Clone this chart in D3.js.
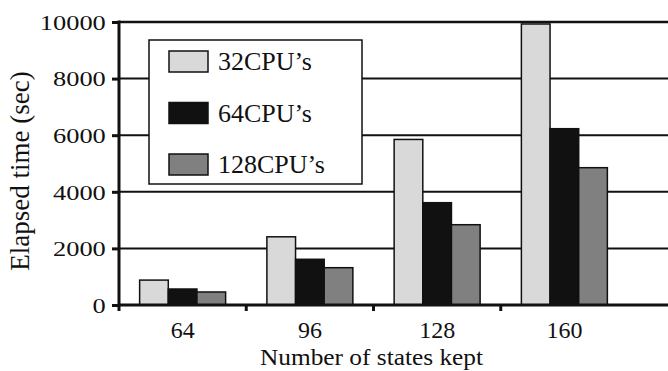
<!DOCTYPE html>
<html><head><meta charset="utf-8">
<script src="https://cdn.jsdelivr.net/npm/d3@7"></script>
<style>body{margin:0;background:#fff}svg{display:block}text{font-family:"Liberation Serif","Times New Roman",serif;fill:#111}</style>
</head><body><div id="chart"></div>
<script>
const categories = ["64", "96", "128", "160"];
const seriesNames = ["32CPU\u2019s", "64CPU\u2019s", "128CPU\u2019s"];
const cpu32 = [880, 2410, 5850, 9930];
const cpu64 = [565, 1615, 3615, 6230];
const cpu128 = [460, 1318, 2837, 4852];
const yTicks = [0, 2000, 4000, 6000, 8000, 10000];
const colors = ["#d9d9d9", "#111111", "#808080"];

const W = 668, H = 371;
const svg = d3.select("#chart").append("svg").attr("width", W).attr("height", H);
const pL = 119, pR = 628, pT = 22, pB = 305;

const x0 = d3.scaleBand().domain(categories).range([pL, pR]).padding(0);
const x1 = d3.scaleBand().domain(seriesNames).range([0, x0.bandwidth()]).paddingInner(0).paddingOuter(0.72);
const y = d3.scaleLinear().domain([0, 10000]).range([pB, pT]);

const series = [cpu32, cpu64, cpu128];

// gridlines
svg.append("g").selectAll("line").data(yTicks.filter(d => d > 0)).join("line")
  .attr("x1", pL).attr("x2", W).attr("y1", d => y(d)).attr("y2", d => y(d))
  .attr("stroke", "#111").attr("stroke-width", d => d === 10000 ? 2.5 : 2);

// bars
const groups = svg.append("g").selectAll("g").data(categories).join("g")
  .attr("transform", d => `translate(${x0(d)},0)`);
groups.selectAll("rect").data((c, i) => series.map((s, k) => ({name: seriesNames[k], v: s[i], k})))
  .join("rect")
  .attr("x", d => x1(d.name)).attr("width", x1.bandwidth())
  .attr("y", d => y(d.v)).attr("height", d => y(0) - y(d.v))
  .attr("fill", d => colors[d.k]).attr("stroke", "#111").attr("stroke-width", 1.5);

// y axis
const yAxis = d3.axisLeft(y).tickValues(yTicks).tickSize(7).tickSizeOuter(0).tickFormat(d3.format("d"));
const ya = svg.append("g").attr("transform", `translate(${pL},0)`).call(yAxis);
ya.select(".domain").remove();
ya.selectAll(".tick line").attr("stroke", "#111").attr("stroke-width", 3);
ya.selectAll(".tick text").attr("font-size", 22).attr("x", -11).attr("dy", "0.33em")
  .style("font-family", '"Liberation Serif",serif').attr("fill", "#111")
  .attr("transform", "scale(1.2,1)");
svg.append("line").attr("x1", pL).attr("x2", pL).attr("y1", pT - 1.5).attr("y2", pB + 6)
  .attr("stroke", "#111").attr("stroke-width", 3);

// x axis
svg.append("line").attr("x1", pL).attr("x2", W).attr("y1", pB).attr("y2", pB)
  .attr("stroke", "#111").attr("stroke-width", 3);
svg.append("g").selectAll("line").data(categories.slice(1)).join("line")
  .attr("x1", d => x0(d)).attr("x2", d => x0(d)).attr("y1", pB).attr("y2", pB + 6)
  .attr("stroke", "#111").attr("stroke-width", 3);
svg.append("g").selectAll("text").data(categories).join("text")
  .attr("x", d => x0(d) + x0.bandwidth() / 2).attr("y", 338)
  .attr("text-anchor", "middle").attr("font-size", 24).text(d => d);

// axis titles
svg.append("text").attr("x", (pL + pR) / 2 - 2).attr("y", 365).attr("text-anchor", "middle")
  .attr("font-size", 24).attr("textLength", 223).attr("lengthAdjust", "spacingAndGlyphs")
  .text("Number of states kept");
svg.append("text").attr("transform", "translate(29,171) rotate(-90)").attr("text-anchor", "middle")
  .attr("font-size", 27).text("Elapsed time (sec)");

// legend
const lg = svg.append("g");
lg.append("rect").attr("x", 149).attr("y", 40).attr("width", 213).attr("height", 144)
  .attr("fill", "#fff").attr("stroke", "#111").attr("stroke-width", 1.5);
const items = lg.selectAll("g").data(seriesNames).join("g")
  .attr("transform", (d, i) => `translate(169,${51 + i * 51.5})`);
items.append("rect").attr("width", 39).attr("height", 21)
  .attr("fill", (d, i) => colors[i]).attr("stroke", "#111").attr("stroke-width", 1.5);
items.append("text").attr("x", 49).attr("y", 19).attr("font-size", 26).text(d => d);
</script></body></html>
